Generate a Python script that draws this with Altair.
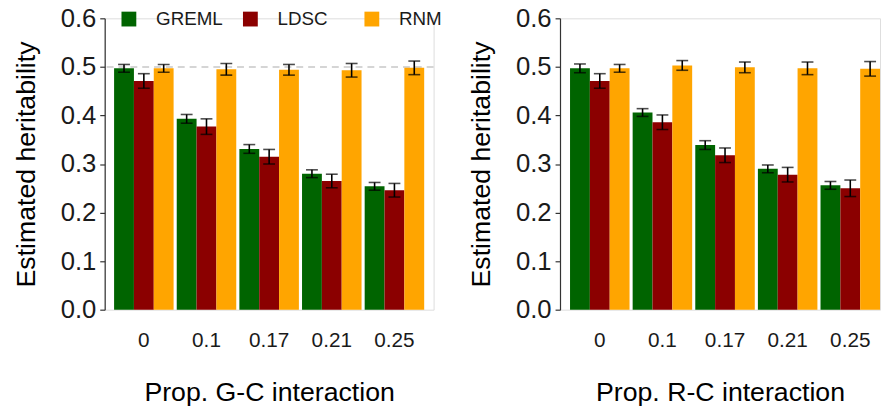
import altair as alt
import pandas as pd

props = ["0", "0.1", "0.17", "0.21", "0.25"]
methods = ["GREML", "LDSC", "RNM"]
colors = ["#006400", "#8B0000", "#FFA500"]

# Left panel: G-C interaction
greml_gc = [0.497, 0.393, 0.331, 0.280, 0.254]
greml_gc_se = [0.008, 0.009, 0.009, 0.008, 0.008]
ldsc_gc = [0.471, 0.377, 0.315, 0.265, 0.246]
ldsc_gc_se = [0.015, 0.016, 0.015, 0.014, 0.014]
rnm_gc = [0.497, 0.495, 0.494, 0.493, 0.498]
rnm_gc_se = [0.008, 0.012, 0.011, 0.014, 0.014]

# Right panel: R-C interaction
greml_rc = [0.497, 0.406, 0.339, 0.290, 0.256]
greml_rc_se = [0.009, 0.008, 0.009, 0.008, 0.008]
ldsc_rc = [0.471, 0.386, 0.318, 0.278, 0.250]
ldsc_rc_se = [0.015, 0.015, 0.015, 0.015, 0.017]
rnm_rc = [0.497, 0.503, 0.499, 0.497, 0.496]
rnm_rc_se = [0.008, 0.010, 0.011, 0.013, 0.015]

ref_line = [0.5]


def make_df(series):
    rows = []
    for m, (vals, ses) in zip(methods, series):
        for p, v, s in zip(props, vals, ses):
            rows.append({"prop": p, "method": m, "h2": v, "lo": v - s, "hi": v + s})
    return pd.DataFrame(rows)


df_gc = make_df([(greml_gc, greml_gc_se), (ldsc_gc, ldsc_gc_se), (rnm_gc, rnm_gc_se)])
df_rc = make_df([(greml_rc, greml_rc_se), (ldsc_rc, ldsc_rc_se), (rnm_rc, rnm_rc_se)])

FONT = "Liberation Sans"

y_axis = alt.Axis(
    title="Estimated heritability",
    values=[0, 0.1, 0.2, 0.3, 0.4, 0.5, 0.6],
    format=".1f",
    grid=False,
    tickSize=5,
    tickWidth=1.2,
    tickColor="#333333",
    domainColor="#333333",
    domainWidth=1.2,
    labelFontSize=26,
    labelColor="#1a1a1a",
    labelPadding=4,
    titleFontSize=27,
    titleFontWeight="normal",
    titleColor="#000000",
    titlePadding=20,
)


def panel(df, xtitle, width, pad_outer, align, show_legend, dashed):
    x_enc = alt.X(
        "prop:N",
        sort=props,
        scale=alt.Scale(paddingInner=0.05, paddingOuter=pad_outer, align=align),
        axis=alt.Axis(
            title=xtitle,
            labelAngle=0,
            domain=False,
            ticks=False,
            tickSize=0,
            labelFontSize=21,
            labelColor="#1a1a1a",
            labelPadding=20,
            titleFontSize=27,
            titleFontWeight="normal",
            titleColor="#000000",
            titlePadding=30,
        ),
    )
    xo = alt.XOffset("method:N", sort=methods, scale=alt.Scale(paddingInner=0, paddingOuter=0))
    if show_legend:
        legend = alt.Legend(
            title=None,
            orient="none",
            legendX=15,
            legendY=-9,
            direction="horizontal",
            gridAlign="all",
            columnPadding=18,
            symbolType="square",
            symbolSize=225,
            symbolStrokeWidth=0,
            symbolOpacity=1,
            labelFontSize=19,
            labelColor="#1a1a1a",
            labelOffset=18,
            labelFont=FONT,
        )
    else:
        legend = None
    color = alt.Color(
        "method:N",
        sort=methods,
        scale=alt.Scale(domain=methods, range=colors),
        legend=legend,
    )
    base = alt.Chart(df).encode(x=x_enc, xOffset=xo)
    bars = base.mark_bar(opacity=1).encode(
        y=alt.Y("h2:Q", scale=alt.Scale(domain=[0, 0.6], nice=False, zero=True), axis=y_axis),
        color=color,
    )
    rules = base.mark_rule(color="black", strokeWidth=1.6).encode(y="lo:Q", y2="hi:Q")
    cap_lo = base.mark_tick(color="black", size=12, thickness=1.6).encode(y="lo:Q")
    cap_hi = base.mark_tick(color="black", size=12, thickness=1.6).encode(y="hi:Q")
    layers = [bars, rules, cap_lo, cap_hi]
    if dashed:
        hline = (
            alt.Chart(pd.DataFrame({"y": ref_line}))
            .mark_rule(color="#c8c8c8", strokeDash=[7, 5], strokeWidth=1.5)
            .encode(y="y:Q")
        )
        layers = [hline] + layers
    return alt.layer(*layers).properties(width=width, height=295)


left = panel(df_gc, "Prop. G-C interaction", 333, 0.15, 0.5, True, True)
right = panel(df_rc, "Prop. R-C interaction", 324, 0.08, 1, False, False)

chart = (
    alt.hconcat(left, right, spacing=24)
    .resolve_scale(color="independent")
    .properties(padding={"left": 12, "top": 2, "right": 0, "bottom": 0})
    .configure_view(strokeWidth=0, stroke="transparent")
    .configure(font=FONT)
)

chart.save("out.html", embed_options={"renderer": "svg", "actions": False})
